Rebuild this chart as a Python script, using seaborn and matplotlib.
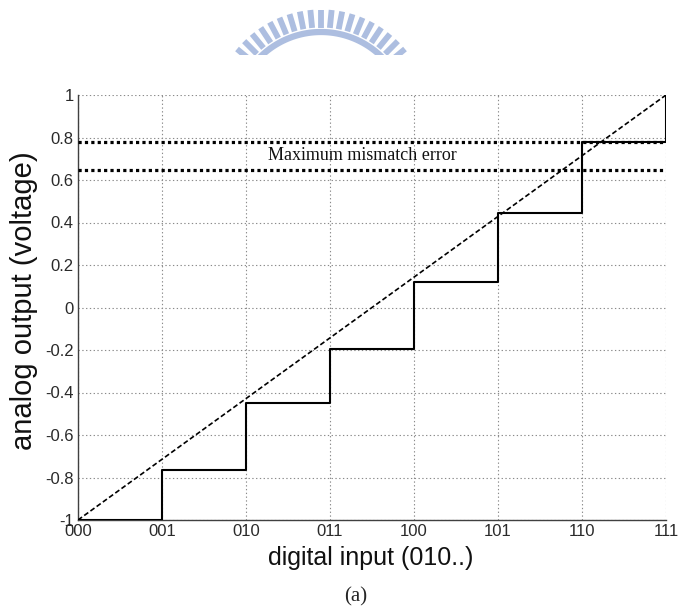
import numpy as np
import pandas as pd
import matplotlib
matplotlib.use('Agg')
import matplotlib.pyplot as plt
import seaborn as sns
from matplotlib.patches import Rectangle

sns.set_style('white')
plt.rcParams['font.family'] = ['Liberation Sans', 'DejaVu Sans']

# ── Data ──────────────────────────────────────────────────────
codes = ['000', '001', '010', '011', '100', '101', '110', '111']
step_levels = [-1.0, -0.765, -0.448, -0.193, 0.122, 0.443, 0.778, 1.0]
ideal_ends = [-1.0, 1.0]
mismatch_bounds = [0.778, 0.645]
y_ticks = [-1, -0.8, -0.6, -0.4, -0.2, 0, 0.2, 0.4, 0.6, 0.8, 1]
y_tick_labels = ['-1', '-0.8', '-0.6', '-0.4', '-0.2', '0', '0.2', '0.4', '0.6', '0.8', '1']

steps = pd.DataFrame({'code': np.arange(len(codes)), 'out': step_levels})
ideal = pd.DataFrame({'code': [0, len(codes) - 1], 'out': ideal_ends})

fig = plt.figure(figsize=(6.8, 6.1), dpi=100)
ax = fig.add_axes([78 / 680, 1 - 520 / 610, 588 / 680, 425 / 610])

# staircase DAC output and ideal line
sns.lineplot(data=steps, x='code', y='out', estimator=None, drawstyle='steps-post',
             color='black', lw=1.5, ax=ax, zorder=4)
sns.lineplot(data=ideal, x='code', y='out', estimator=None, color='black',
             lw=1.2, ls=(0, (3, 1.6)), ax=ax, zorder=4)

for b in mismatch_bounds:
    ax.axhline(b, color='black', lw=2.3, ls=(0, (1, 1)), zorder=3)
ax.text(3.38, 0.716, 'Maximum mismatch error', family='Liberation Serif',
        fontsize=13, ha='center', va='center', color='#111111')

ax.set_xlim(0, 7)
ax.set_ylim(-1, 1)
ax.set_xticks(range(len(codes)))
ax.set_xticklabels(codes)
ax.set_yticks(y_ticks)
ax.set_yticklabels(y_tick_labels)
ax.grid(True, color='#8a8a8a', lw=0.8, ls=(0, (1.2, 2.2)))
ax.tick_params(direction='in', length=4, width=1, color='#404040',
               labelsize=12, labelcolor='#2a2a2a', pad=3)
sns.despine(ax=ax)
for s in ['left', 'bottom']:
    ax.spines[s].set_color('#404040')
    ax.spines[s].set_linewidth(1.0)

ax.set_xlabel('digital input (010..)', fontsize=18, color='#111111')
ax.set_ylabel('analog output (voltage)', fontsize=21, color='#111111')
ax.xaxis.set_label_coords(0.497, -0.06)
ax.yaxis.set_label_coords(-0.068, 0.515)

fig.text(356 / 680, 1 - 597 / 610, '(a)', family='Liberation Serif', fontsize=15,
         ha='center', va='center')

# ── Watermark logo at the top ─────────────────────────────────
wax = fig.add_axes([0, 0, 1, 1], zorder=-1)
wax.set_xlim(0, 680)
wax.set_ylim(610, 0)
wax.axis('off')
clip = Rectangle((0, 0), 680, 55, transform=wax.transData)
logo = '#adbee0'
cx, cy = 321, 118.5
for k in range(-11, 12):
    t = np.deg2rad(90 + 5.6 * k)
    ln, = wax.plot([cx + 91 * np.cos(t), cx + 109 * np.cos(t)],
                   [cy - 91 * np.sin(t), cy - 109 * np.sin(t)],
                   color=logo, lw=4.2, solid_capstyle='butt')
    ln.set_clip_path(clip)
tt = np.linspace(np.deg2rad(25), np.deg2rad(155), 100)
ring, = wax.plot(cx + 86.5 * np.cos(tt), cy - 86.5 * np.sin(tt), color=logo, lw=4.5)
ring.set_clip_path(clip)

plt.savefig('out.png', dpi=100)
plt.close()
